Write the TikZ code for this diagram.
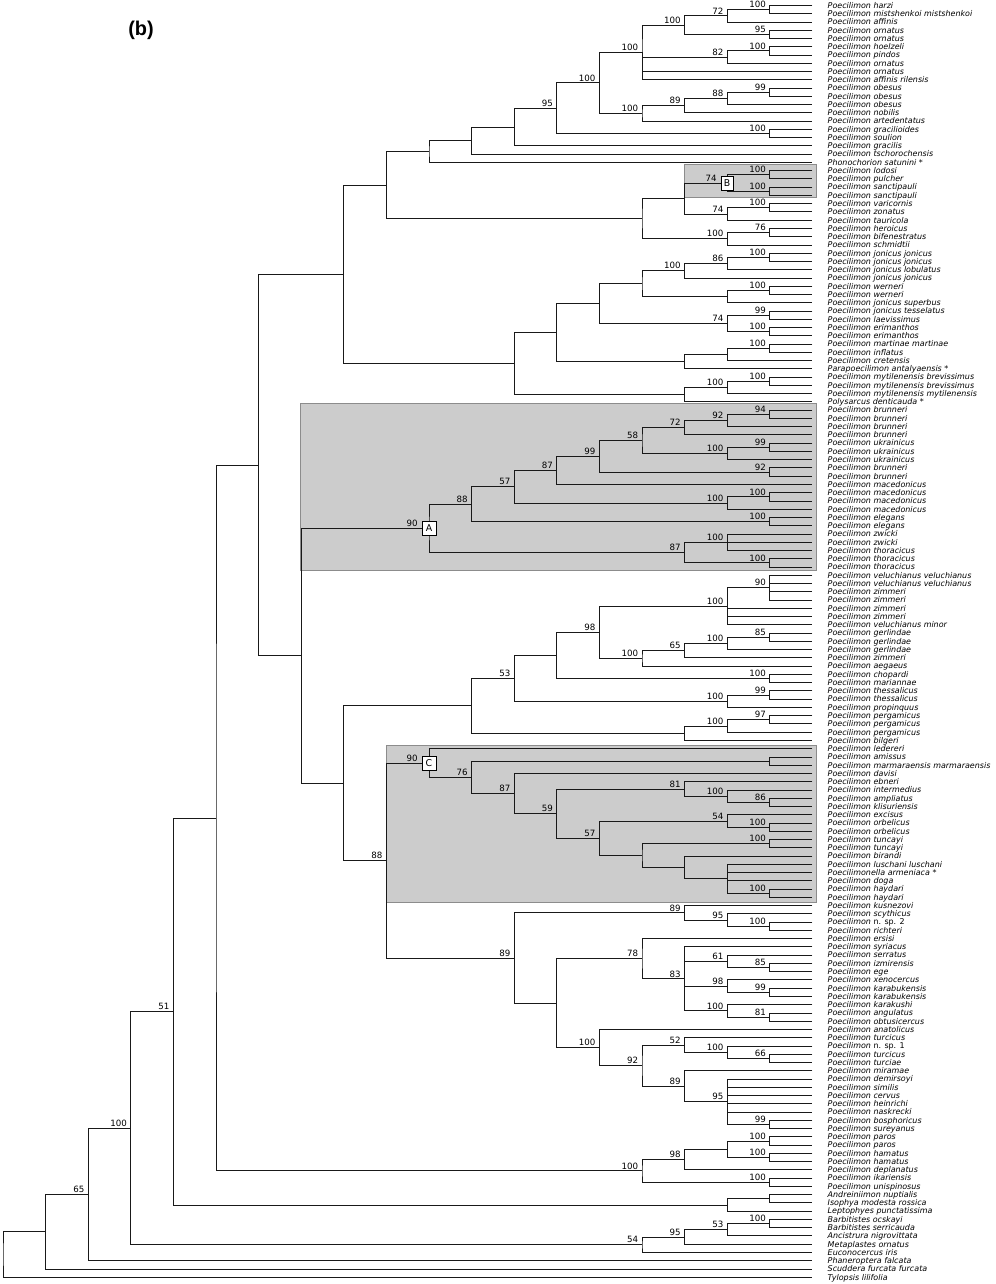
\documentclass[tikz,border=0pt]{standalone}
\usepackage{fontspec}
\usepackage{tikz}
\usetikzlibrary{calc}

\newfontfamily\treefont{DejaVu Sans}
\newfontfamily\titlefont{Liberation Sans}

\tikzset{
  branch/.style={draw=black!90, line width=0.8pt},
  support/.style={anchor=south east, inner sep=0pt, xshift=-1.1mm, yshift=0.45mm,
    font=\treefont\fontsize{7.4}{8}\selectfont},
  leaf/.style={anchor=base west, inner sep=0pt,
    font=\treefont\fontsize{6.8}{7}\selectfont\itshape},
  tag/.style={draw=black, fill=white, line width=0.6pt, inner sep=0pt,
    minimum width=4.2mm, minimum height=4.2mm, font=\treefont\fontsize{8}{9}\selectfont},
  shade/.style={fill=black!20, draw=black!45, line width=0.6pt}
}

% clade: name, level, first child, last child, support value
\newcommand{\addclade}[5]{%
  \coordinate (#1m) at ($(#3)!0.5!(#4)$);
  \coordinate (#1) at (#1m -| lv#2);
  \draw[branch] (#3) -| (#1) |- (#4);
  \node[support] at (#1) {#5};
}

\begin{document}
\begin{tikzpicture}[x=0.3mm, y=-0.3mm]
	\useasboundingbox (0,0) rectangle (995,1284);

	% shaded groups
	\draw[shade] (684.7,164.7) rectangle (816.7,197.3);
	\draw[shade] (300.7,403.3) rectangle (816.7,570.7);
	\draw[shade] (386,745.7) rectangle (816.7,902.7);

	\node[font=\titlefont\bfseries\fontsize{17}{20}\selectfont] (title) at (141,30) {(b)};

	\foreach \k in {0,...,18}
		\coordinate (lv\k) at ({3+42.6*\k}, 0);

	\foreach \name [count=\i] in {
		Poecilimon harzi, Poecilimon mistshenkoi mistshenkoi, Poecilimon affinis,
		Poecilimon ornatus, Poecilimon ornatus, Poecilimon hoelzeli, Poecilimon pindos,
		Poecilimon ornatus, Poecilimon ornatus, Poecilimon affinis rilensis,
		Poecilimon obesus, Poecilimon obesus, Poecilimon obesus, Poecilimon nobilis,
		Poecilimon artedentatus, Poecilimon gracilioides, Poecilimon soulion,
		Poecilimon gracilis, Poecilimon tschorochensis, Phonochorion satunini *,
		Poecilimon lodosi, Poecilimon pulcher, Poecilimon sanctipauli, Poecilimon sanctipauli,
		Poecilimon varicornis, Poecilimon zonatus, Poecilimon tauricola, Poecilimon heroicus,
		Poecilimon bifenestratus, Poecilimon schmidtii, Poecilimon jonicus jonicus,
		Poecilimon jonicus jonicus, Poecilimon jonicus lobulatus, Poecilimon jonicus jonicus,
		Poecilimon werneri, Poecilimon werneri, Poecilimon jonicus superbus,
		Poecilimon jonicus tesselatus, Poecilimon laevissimus, Poecilimon erimanthos,
		Poecilimon erimanthos, Poecilimon martinae martinae, Poecilimon inflatus,
		Poecilimon cretensis, Parapoecilimon antalyaensis *,
		Poecilimon mytilenensis brevissimus, Poecilimon mytilenensis brevissimus,
		Poecilimon mytilenensis mytilenensis, Polysarcus denticauda *,
		Poecilimon brunneri, Poecilimon brunneri, Poecilimon brunneri, Poecilimon brunneri,
		Poecilimon ukrainicus, Poecilimon ukrainicus, Poecilimon ukrainicus,
		Poecilimon brunneri, Poecilimon brunneri, Poecilimon macedonicus,
		Poecilimon macedonicus, Poecilimon macedonicus, Poecilimon macedonicus,
		Poecilimon elegans, Poecilimon elegans, Poecilimon zwicki, Poecilimon zwicki,
		Poecilimon thoracicus, Poecilimon thoracicus, Poecilimon thoracicus,
		Poecilimon veluchianus veluchianus, Poecilimon veluchianus veluchianus,
		Poecilimon zimmeri, Poecilimon zimmeri, Poecilimon zimmeri, Poecilimon zimmeri,
		Poecilimon veluchianus minor, Poecilimon gerlindae, Poecilimon gerlindae,
		Poecilimon gerlindae, Poecilimon zimmeri, Poecilimon aegaeus, Poecilimon chopardi,
		Poecilimon mariannae, Poecilimon thessalicus, Poecilimon thessalicus,
		Poecilimon propinquus, Poecilimon pergamicus, Poecilimon pergamicus,
		Poecilimon pergamicus, Poecilimon bilgeri, Poecilimon ledereri, Poecilimon amissus,
		Poecilimon marmaraensis marmaraensis, Poecilimon davisi, Poecilimon ebneri,
		Poecilimon intermedius, Poecilimon ampliatus, Poecilimon klisuriensis,
		Poecilimon excisus, Poecilimon orbelicus, Poecilimon orbelicus, Poecilimon tuncayi,
		Poecilimon tuncayi, Poecilimon birandi, Poecilimon luschani luschani,
		Poecilimonella armeniaca *, Poecilimon doga, Poecilimon haydari, Poecilimon haydari,
		Poecilimon kusnezovi, Poecilimon scythicus, {Poecilimon {\upshape n. sp. 2}},
		Poecilimon richteri, Poecilimon ersisi, Poecilimon syriacus, Poecilimon serratus,
		Poecilimon izmirensis, Poecilimon ege, Poecilimon xenocercus,
		Poecilimon karabukensis, Poecilimon karabukensis, Poecilimon karakushi,
		Poecilimon angulatus, Poecilimon obtusicercus, Poecilimon anatolicus,
		Poecilimon turcicus, {Poecilimon {\upshape n. sp. 1}}, Poecilimon turcicus,
		Poecilimon turciae, Poecilimon miramae, Poecilimon demirsoyi, Poecilimon similis,
		Poecilimon cervus, Poecilimon heinrichi, Poecilimon naskrecki,
		Poecilimon bosphoricus, Poecilimon sureyanus, Poecilimon paros, Poecilimon paros,
		Poecilimon hamatus, Poecilimon hamatus, Poecilimon deplanatus,
		Poecilimon ikariensis, Poecilimon unispinosus, Andreiniimon nuptialis,
		Isophya modesta rossica, Leptophyes punctatissima, Barbitistes ocskayi,
		Barbitistes serricauda, Ancistrura nigrovittata, Metaplastes ornatus,
		Euconocercus iris, Phaneroptera falcata, Scuddera furcata furcata,
		Tylopsis lilifolia} {
		\coordinate (t\i) at (812.4, {5.5+8.258*(\i-1)});
		\node[leaf] (l\i) at (827.5, {5.5+8.258*(\i-1)+2.8}) {\name};
	}

	% top group
	\addclade{a1}{18}{t1}{t2}{100}
	\addclade{a2}{17}{a1}{t3}{72}
	\addclade{a3}{18}{t4}{t5}{95}
	\addclade{a4}{16}{a2}{a3}{100}
	\addclade{a5}{18}{t6}{t7}{100}
	\addclade{a6}{17}{a5}{t8}{82}
	\addclade{a7}{15}{a4}{t10}{100}
	\draw[branch] (a7) |- (a6);
	\draw[branch] (a7) |- (t9);
	\addclade{a8}{18}{t11}{t12}{99}
	\addclade{a9}{17}{a8}{t13}{88}
	\addclade{a10}{16}{a9}{t14}{89}
	\addclade{a11}{15}{a10}{t15}{100}
	\addclade{a12}{14}{a7}{a11}{100}
	\addclade{a13}{18}{t16}{t17}{100}
	\addclade{a14}{13}{a12}{a13}{95}
	\addclade{a15}{12}{a14}{t18}{}
	\addclade{a16}{11}{a15}{t19}{}
	\addclade{a17}{10}{a16}{t20}{}
	\addclade{b1}{18}{t21}{t22}{100}
	\addclade{b2}{18}{t23}{t24}{100}
	\addclade{B}{17}{b1}{b2}{}
	\addclade{b3}{18}{t25}{t26}{100}
	\addclade{b4}{17}{b3}{t27}{74}
	\addclade{b5}{16}{B}{b4}{}
	\addclade{b6}{18}{t28}{t29}{76}
	\addclade{b7}{17}{b6}{t30}{100}
	\addclade{b8}{15}{b5}{b7}{}
	\addclade{b9}{9}{a17}{b8}{}

	% jonicus group
	\addclade{d1}{18}{t31}{t32}{100}
	\addclade{d2}{17}{d1}{t33}{86}
	\addclade{d3}{16}{d2}{t34}{100}
	\addclade{d4}{18}{t35}{t36}{100}
	\addclade{d5}{17}{d4}{t37}{}
	\addclade{d6}{15}{d3}{d5}{}
	\addclade{d7}{18}{t38}{t39}{99}
	\addclade{d8}{18}{t40}{t41}{100}
	\addclade{d9}{17}{d7}{d8}{74}
	\addclade{d10}{14}{d6}{d9}{}
	\addclade{d11}{18}{t42}{t43}{100}
	\addclade{d12}{17}{d11}{t44}{}
	\addclade{d13}{16}{d12}{t45}{}
	\addclade{d14}{13}{d10}{d13}{}
	\addclade{d15}{18}{t46}{t47}{100}
	\addclade{d16}{17}{d15}{t48}{100}
	\addclade{d17}{16}{d16}{t49}{}
	\addclade{d18}{12}{d14}{d17}{}
	\addclade{d19}{8}{b9}{d18}{}

	% group A
	\addclade{e1}{18}{t50}{t51}{94}
	\addclade{e2}{17}{e1}{t52}{92}
	\addclade{e3}{16}{e2}{t53}{72}
	\addclade{e4}{18}{t54}{t55}{99}
	\addclade{e5}{17}{e4}{t56}{100}
	\addclade{e6}{15}{e3}{e5}{58}
	\addclade{e7}{18}{t57}{t58}{92}
	\addclade{e8}{14}{e6}{e7}{99}
	\addclade{e9}{13}{e8}{t59}{87}
	\addclade{e10}{18}{t60}{t61}{100}
	\addclade{e11}{17}{e10}{t62}{100}
	\addclade{e12}{12}{e9}{e11}{57}
	\addclade{e13}{18}{t63}{t64}{100}
	\addclade{e14}{11}{e12}{e13}{88}
	\addclade{e15}{17}{t65}{t67}{100}
	\draw[branch] (e15) |- (t66);
	\addclade{e16}{18}{t68}{t69}{100}
	\addclade{e17}{16}{e15}{e16}{87}
	\addclade{A}{10}{e14}{e17}{}

	% veluchianus to bilgeri
	\addclade{f1}{18}{t70}{t73}{90}
	\draw[branch] (f1) |- (t71);
	\draw[branch] (f1) |- (t72);
	\addclade{f2}{17}{f1}{t76}{100}
	\draw[branch] (f2) |- (t74);
	\draw[branch] (f2) |- (t75);
	\addclade{f3}{18}{t77}{t78}{85}
	\addclade{f4}{17}{f3}{t79}{100}
	\addclade{f5}{16}{f4}{t80}{65}
	\addclade{f6}{15}{f5}{t81}{100}
	\addclade{f7}{14}{f2}{f6}{98}
	\addclade{f8}{18}{t82}{t83}{100}
	\addclade{f9}{13}{f7}{f8}{}
	\addclade{f10}{18}{t84}{t85}{99}
	\addclade{f11}{17}{f10}{t86}{100}
	\addclade{f12}{12}{f9}{f11}{53}
	\addclade{f13}{18}{t87}{t88}{97}
	\addclade{f14}{17}{f13}{t89}{100}
	\addclade{f15}{16}{f14}{t90}{}
	\addclade{f16}{11}{f12}{f15}{}

	% group C
	\addclade{g1}{18}{t92}{t93}{}
	\addclade{g2}{18}{t97}{t98}{86}
	\addclade{g3}{17}{t96}{g2}{100}
	\addclade{g4}{16}{t95}{g3}{81}
	\addclade{g5}{18}{t100}{t101}{100}
	\addclade{g6}{17}{t99}{g5}{54}
	\addclade{g7}{18}{t102}{t103}{100}
	\addclade{g8}{18}{t108}{t109}{100}
	\addclade{g9}{17}{t105}{g8}{}
	\draw[branch] (g9) |- (t106);
	\draw[branch] (g9) |- (t107);
	\addclade{g10}{16}{t104}{g9}{}
	\addclade{g11}{15}{g7}{g10}{}
	\addclade{g12}{14}{g6}{g11}{57}
	\addclade{g13}{13}{g4}{g12}{59}
	\addclade{g14}{12}{t94}{g13}{87}
	\addclade{g15}{11}{g1}{g14}{76}
	\addclade{C}{10}{t91}{g15}{}

	% kusnezovi to sureyanus
	\addclade{h1}{18}{t112}{t113}{100}
	\addclade{h2}{17}{t111}{h1}{95}
	\addclade{h3}{16}{t110}{h2}{89}
	\addclade{h4}{18}{t117}{t118}{85}
	\addclade{h5}{17}{t116}{h4}{61}
	\addclade{h6}{18}{t120}{t121}{99}
	\addclade{h7}{17}{t119}{h6}{98}
	\addclade{h8}{18}{t123}{t124}{81}
	\addclade{h9}{17}{t122}{h8}{100}
	\addclade{h10}{16}{t115}{h9}{83}
	\draw[branch] (h10) |- (h5);
	\draw[branch] (h10) |- (h7);
	\addclade{h11}{15}{t114}{h10}{78}
	\addclade{h12}{18}{t128}{t129}{66}
	\addclade{h13}{17}{t127}{h12}{100}
	\addclade{h14}{16}{t126}{h13}{52}
	\addclade{h15}{18}{t136}{t137}{99}
	\addclade{h16}{17}{t131}{h15}{95}
	\foreach \j in {132,...,135}
		\draw[branch] (h16) |- (t\j);
	\addclade{h17}{16}{t130}{h16}{89}
	\addclade{h18}{15}{h14}{h17}{92}
	\addclade{h19}{14}{t125}{h18}{100}
	\addclade{h20}{13}{h11}{h19}{}
	\addclade{h21}{12}{h3}{h20}{89}
	\addclade{h22}{9}{C}{h21}{88}
	\addclade{h23}{8}{f16}{h22}{}
	\addclade{h24}{7}{A}{h23}{}

	% paros group and outgroups
	\addclade{p1}{18}{t138}{t139}{100}
	\addclade{p2}{18}{t140}{t141}{100}
	\addclade{p3}{17}{p1}{p2}{}
	\addclade{p4}{16}{p3}{t142}{98}
	\addclade{p5}{18}{t143}{t144}{100}
	\addclade{p6}{15}{p4}{p5}{100}
	\addclade{q1}{18}{t145}{t146}{}
	\addclade{q2}{17}{q1}{t147}{}
	\addclade{q3}{18}{t148}{t149}{100}
	\addclade{q4}{17}{q3}{t150}{53}
	\addclade{q5}{16}{q4}{t151}{95}
	\addclade{q6}{15}{q5}{t152}{54}

	\addclade{r6}{6}{d19}{h24}{}
	\addclade{r5}{5}{r6}{p6}{}
	\addclade{r4}{4}{r5}{q2}{51}
	\addclade{r3}{3}{r4}{q6}{100}
	\addclade{r2}{2}{r3}{t153}{65}
	\addclade{r1}{1}{r2}{t154}{}
	\addclade{r0}{0}{r1}{t155}{}

	% clade tags
	\node[tag] (Abox) at (A) {A};
	\node[support] at (Abox.west) {90};
	\node[tag, minimum width=3.8mm] (Bbox) at (B) {B};
	\node[support] at (Bbox.west) {74};
	\node[tag] (Cbox) at (C) {C};
	\node[support] at (Cbox.west) {90};

\end{tikzpicture}
\end{document}
